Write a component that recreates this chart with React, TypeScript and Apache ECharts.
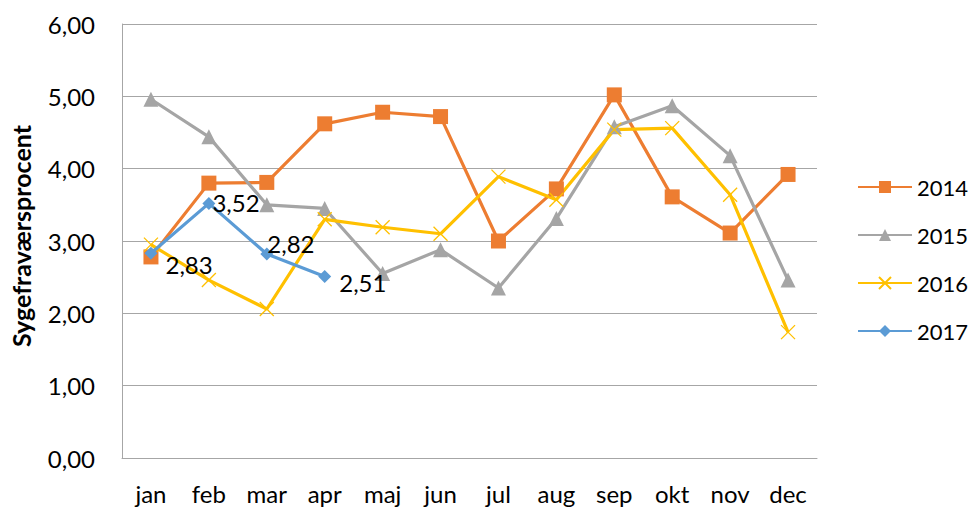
import React, { useEffect, useRef } from "react";
import * as echarts from "echarts";

const months = ["jan", "feb", "mar", "apr", "maj", "jun", "jul", "aug", "sep", "okt", "nov", "dec"];
const s2014 = [2.78, 3.80, 3.81, 4.62, 4.78, 4.72, 3.00, 3.72, 5.02, 3.61, 3.11, 3.92];
const s2015 = [4.96, 4.44, 3.50, 3.45, 2.55, 2.88, 2.35, 3.31, 4.58, 4.87, 4.18, 2.46];
const s2016 = [2.95, 2.46, 2.06, 3.30, 3.19, 3.10, 3.89, 3.57, 4.54, 4.56, 3.64, 1.74];
const s2017 = [2.83, 3.52, 2.82, 2.51];
const labelOffsets: number[][] = [[3, 11], [-8, -1], [-11, -11], [3, 6]];

const FONT = "Lato";
const fmt = (v: number) => v.toFixed(2).replace(".", ",");

export default function App() {
  const ref = useRef<HTMLDivElement>(null);
  useEffect(() => {
    document.body.style.margin = "0";
    const chart = echarts.init(ref.current!, undefined, { renderer: "svg" });
    const mk = (name: string, data: any[], color: string, symbol: string, size: number, extra: any = {}) => ({
      name,
      type: "line",
      data,
      symbol,
      symbolSize: size,
      lineStyle: { color, width: 3.2 },
      itemStyle: { color },
      emphasis: { disabled: true },
      z: 2,
      ...extra,
    });
    chart.setOption({
      animation: false,
      textStyle: { fontFamily: FONT },
      grid: { left: 117, right: 158, top: 24, bottom: 51 },
      xAxis: {
        type: "category",
        data: months,
        axisTick: { show: false },
        axisLine: { show: true, lineStyle: { color: "#a6a6a6", width: 1 } },
        axisLabel: { color: "#000", fontSize: 24, fontFamily: FONT, margin: 23 },
      },
      yAxis: {
        type: "value",
        min: 0,
        max: 6,
        interval: 1,
        name: "Sygefraværsprocent",
        nameLocation: "middle",
        nameGap: 89,
        nameRotate: 90,
        nameTextStyle: {
          color: "#000",
          fontSize: 25,
          fontWeight: "bold",
          fontFamily: FONT,
          padding: [0, 0, 0, 10],
        },
        axisLine: { show: true, lineStyle: { color: "#a6a6a6", width: 1 } },
        axisTick: { show: false },
        splitLine: { lineStyle: { color: "#a6a6a6", width: 1 } },
        axisLabel: { color: "#000", fontSize: 24, fontFamily: FONT, margin: 27, formatter: (v: number) => fmt(v) },
      },
      legend: {
        orient: "vertical",
        left: 857,
        top: 176,
        padding: 0,
        itemWidth: 54,
        itemHeight: 15,
        itemGap: 26,
        textStyle: { color: "#000", fontSize: 22, fontFamily: FONT, lineHeight: 22 },
        data: ["2014", "2015", "2016", "2017"],
      },
      series: [
        mk("2014", s2014, "#ED7D31", "rect", 15),
        mk("2015", s2015, "#A5A5A5", "triangle", 15),
        mk("2016", s2016, "#FFC000", "path://M0,0L10,10M10,0L0,10", 14, {
          itemStyle: { color: "none", borderColor: "#FFC000", borderWidth: 1.3 },
        }),
        mk(
          "2017",
          s2017.map((v, i) => ({
            value: v,
            label: { offset: labelOffsets[i] },
          })),
          "#5B9BD5",
          "diamond",
          13,
          {
            z: 3,
            label: {
              show: true,
              position: "right",
              color: "#000",
              fontSize: 24,
              fontFamily: FONT,
              formatter: (p: any) => fmt(p.value),
            },
          }
        ),
      ],
    });
    return () => chart.dispose();
  }, []);
  return <div ref={ref} style={{ width: 975, height: 509 }} />;
}
